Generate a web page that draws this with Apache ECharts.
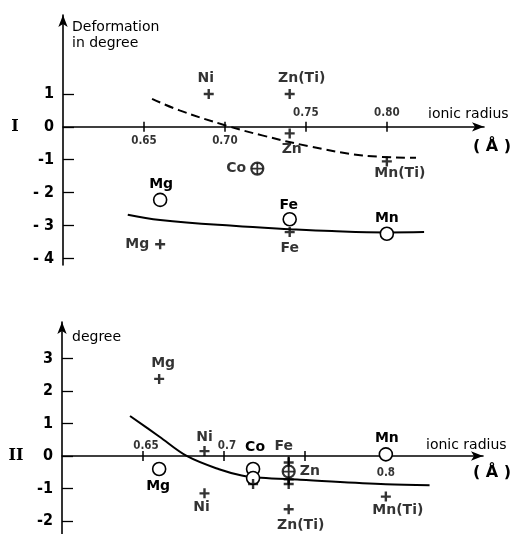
<!DOCTYPE html>
<html><head><meta charset="utf-8">
<script src="https://cdn.jsdelivr.net/npm/echarts@6/dist/echarts.min.js"></script>
<style>html,body{margin:0;padding:0;background:#fff}#c{width:516px;height:534px}</style>
</head><body><div id="c"></div>
<script>
// ---------- DATA ----------
// Panel I
const p1CrossNames = ['Ni', 'Zn(Ti)', 'Zn', 'Mn(Ti)', 'Mg', 'Fe'];
const p1CrossX = [0.69, 0.74, 0.74, 0.80, 0.66, 0.74];
const p1CrossY = [1.0, 1.0, -0.2, -1.05, -3.57, -3.2];
const p1CircleNames = ['Mg', 'Fe', 'Mn'];
const p1CircleX = [0.66, 0.74, 0.80];
const p1CircleY = [-2.22, -2.81, -3.25];
const p1OplusNames = ['Co'];
const p1OplusX = [0.72];
const p1OplusY = [-1.27];
const p1DashX = [0.655, 0.672, 0.70, 0.723, 0.752, 0.785, 0.818];
const p1DashY = [0.85, 0.5, 0.05, -0.26, -0.59, -0.87, -0.94];
const p1SolidX = [0.64, 0.66, 0.705, 0.74, 0.766, 0.80, 0.823];
const p1SolidY = [-2.67, -2.83, -3.01, -3.11, -3.17, -3.21, -3.2];
const p1YTicks = [1, 0, -1, -2, -3, -4];
const p1YLabels = ['1', '0', '-1', '- 2', '- 3', '- 4'];
const p1XBelowTicks = [0.65, 0.70];
const p1XBelowLabels = ['0.65', '0.70'];
const p1XAboveTicks = [0.75, 0.80];
const p1XAboveLabels = ['0.75', '0.80'];

// Panel II
const p2CrossNames = ['Mg', 'Ni', 'Ni', '', 'Fe', '', '', 'Zn(Ti)', 'Mn(Ti)'];
const p2CrossX = [0.66, 0.688, 0.688, 0.718, 0.74, 0.74, 0.74, 0.74, 0.80];
const p2CrossY = [2.37, 0.15, -1.15, -0.86, -0.2, -0.72, -0.86, -1.64, -1.25];
const p2CircleNames = ['Mg', 'Co', '', 'Mn'];
const p2CircleX = [0.66, 0.718, 0.718, 0.80];
const p2CircleY = [-0.40, -0.40, -0.68, 0.05];
const p2OplusNames = ['Zn'];
const p2OplusX = [0.74];
const p2OplusY = [-0.48];
const p2FeBarX = [0.74, 0.74];
const p2FeBarY = [-0.02, -0.9];
const p2SolidX = [0.642, 0.66, 0.677, 0.697, 0.711, 0.723, 0.747, 0.80, 0.827];
const p2SolidY = [1.23, 0.6, 0.0, -0.41, -0.6, -0.67, -0.73, -0.87, -0.9];
const p2YTicks = [3, 2, 1, 0, -1, -2];
const p2YLabels = ['3', '2', '1', '0', '-1', '-2'];
const p2XAboveTicks = [0.65, 0.70];
const p2XAboveLabels = ['0.65', '0.7'];
const p2XBelowTicks = [0.80];
const p2XBelowLabels = ['0.8'];
const xTicks = [0.65, 0.70, 0.75, 0.80];

// ---------- LABEL LAYOUT (style, not data) ----------
const p1CrossLab = [['top', [-3, 0]], ['top', [12, 0]], ['bottom', [2, 0]], ['bottom', [13, -4]], ['left', [-2, 0]], ['bottom', [0, 0]]];
const p1CircleLab = [['top', [1, 3]], ['top', [-1, 4]], ['top', [0, 3]]];
const p1OplusLab = [['left', [0, 0]]];
const p2CrossLab = [['top', [4, 0]], ['top', [0, 2]], ['bottom', [-3, -2]], ['top', [0, 0]], ['top', [-5, 0]], ['top', [0, 0]], ['top', [0, 0]], ['bottom', [12, 0]], ['bottom', [12, -2]]];
const p2CircleLab = [['bottom', [-1, -1]], ['top', [2, -3]], ['top', [0, 0]], ['top', [1, 2]]];
const p2OplusLab = [['right', [0, 0]]];

const FONT = 'DejaVu Sans';
const NUMFONT = 'DejaVu Sans Condensed, DejaVu Sans';
const CROSS = 'path://M3.8,0H6.2V3.8H10V6.2H6.2V10H3.8V6.2H0V3.8H3.8Z';
const THINCROSS = 'path://M4.2,0H5.8V4.2H10V5.8H5.8V10H4.2V5.8H0V4.2H4.2Z';

function pts(xs, ys, names, lab) {
  return xs.map((x, i) => {
    const d = { value: [x, ys[i]], name: names ? names[i] : '' };
    if (lab && names && names[i]) {
      d.label = { show: true, formatter: '{b}', position: lab[i][0], offset: lab[i][1], distance: 4,
        fontFamily: FONT, fontWeight: 'bold', fontSize: 14, color: '#000' };
    }
    return d;
  });
}
function line(xs, ys) { return xs.map((x, i) => [x, ys[i]]); }
function lookup(ticks, labels) {
  return v => { for (let i = 0; i < ticks.length; i++) if (Math.abs(ticks[i] - v) < 1e-6) return labels[i]; return ''; };
}

const gridDefs = [
  { left: 63, width: 421, top: 15, height: 250, outerBoundsMode: 'none', containLabel: false },
  { left: 62, width: 421, top: 322, height: 212, outerBoundsMode: 'none', containLabel: false }
];

function xAxisPair(gridIndex) {
  const common = { type: 'value', gridIndex, min: 0.6, max: 0.86, splitLine: { show: false }, axisLabel: { show: false } };
  return [
    Object.assign({}, common, {
      position: 'bottom',
      axisLine: { show: true, onZero: true, onZeroAxisIndex: gridIndex, symbol: ['none', 'arrow'], symbolSize: [7, 12],
        lineStyle: { color: '#000', width: 1.6 } },
      axisTick: { show: true, inside: false, length: 5, customValues: xTicks, lineStyle: { color: '#000', width: 1.5 } }
    }),
    Object.assign({}, common, {
      position: 'top',
      axisLine: { show: false, onZero: true, onZeroAxisIndex: gridIndex },
      axisTick: { show: true, inside: false, length: 5, customValues: xTicks, lineStyle: { color: '#000', width: 1.5 } }
    })
  ];
}

function yAxis(gridIndex, min, max, ticks, labels) {
  return {
    type: 'value', gridIndex, min, max, position: 'left',
    splitLine: { show: false },
    axisLine: { show: true, onZero: false, symbol: ['none', 'arrow'], symbolSize: [7, 12], lineStyle: { color: '#000', width: 1.6 } },
    axisTick: { show: true, inside: true, length: 11, customValues: ticks, lineStyle: { color: '#000', width: 1.3 } },
    axisLabel: { show: true, customValues: ticks, formatter: lookup(ticks, labels), margin: 9,
      fontFamily: NUMFONT, fontWeight: 'bold', fontSize: 16, color: '#000' }
  };
}

// x tick labels placed at (tick, 0) through the axis scales
function tickLabelSeries(xi, yi, ticks, labels, pos, dist, offset) {
  return { type: 'scatter', xAxisIndex: xi, yAxisIndex: yi, symbol: 'circle', symbolSize: 0.1, silent: true, z: 8,
    itemStyle: { color: 'rgba(0,0,0,0)' },
    label: { show: true, formatter: '{b}', position: pos, distance: dist, offset: offset || [0, 0],
      fontFamily: NUMFONT, fontWeight: 'bold', fontSize: 11.5, color: '#000' },
    data: ticks.map((t, i) => ({ value: [t, 0], name: labels[i] })) };
}

function crossSeries(xi, yi, data) {
  return { type: 'scatter', xAxisIndex: xi, yAxisIndex: yi, symbol: CROSS, symbolSize: 10, z: 5,
    itemStyle: { color: '#000' }, data };
}
function circleSeries(xi, yi, data) {
  return { type: 'scatter', xAxisIndex: xi, yAxisIndex: yi, symbol: 'circle', symbolSize: 13, z: 4,
    itemStyle: { color: '#fff', borderColor: '#000', borderWidth: 1.6, opacity: 1 }, data };
}
function oplusSeries(xi, yi, xs, ys, names, lab) {
  return [
    { type: 'scatter', xAxisIndex: xi, yAxisIndex: yi, symbol: 'circle', symbolSize: 12, z: 6,
      itemStyle: { color: '#fff', borderColor: '#000', borderWidth: 2.2 }, data: pts(xs, ys, names, lab) },
    { type: 'scatter', xAxisIndex: xi, yAxisIndex: yi, symbol: THINCROSS, symbolSize: 11, z: 7,
      itemStyle: { color: '#000' }, data: pts(xs, ys) }
  ];
}

const series = [
  // Panel I
  { type: 'line', xAxisIndex: 0, yAxisIndex: 0, data: line(p1DashX, p1DashY), smooth: 0.4, showSymbol: false, z: 2,
    lineStyle: { color: '#000', width: 2, type: [9, 5] } },
  { type: 'line', xAxisIndex: 0, yAxisIndex: 0, data: line(p1SolidX, p1SolidY), smooth: 0.4, showSymbol: false, z: 2,
    lineStyle: { color: '#000', width: 2 } },
  circleSeries(0, 0, pts(p1CircleX, p1CircleY, p1CircleNames, p1CircleLab)),
  crossSeries(0, 0, pts(p1CrossX, p1CrossY, p1CrossNames, p1CrossLab)),
  ...oplusSeries(0, 0, p1OplusX, p1OplusY, p1OplusNames, p1OplusLab),
  tickLabelSeries(0, 0, p1XBelowTicks, p1XBelowLabels, 'bottom', 8),
  tickLabelSeries(0, 0, p1XAboveTicks, p1XAboveLabels, 'top', 8),
  // Panel II
  { type: 'line', xAxisIndex: 2, yAxisIndex: 1, data: line(p2SolidX, p2SolidY), smooth: 0.35, showSymbol: false, z: 2,
    lineStyle: { color: '#000', width: 2 } },
  { type: 'line', xAxisIndex: 2, yAxisIndex: 1, data: line(p2FeBarX, p2FeBarY), showSymbol: false, z: 3,
    lineStyle: { color: '#000', width: 2 } },
  circleSeries(2, 1, pts(p2CircleX, p2CircleY, p2CircleNames, p2CircleLab)),
  crossSeries(2, 1, pts(p2CrossX, p2CrossY, p2CrossNames, p2CrossLab)),
  ...oplusSeries(2, 1, p2OplusX, p2OplusY, p2OplusNames, p2OplusLab),
  tickLabelSeries(2, 1, p2XAboveTicks, p2XAboveLabels, 'top', 4, [3, 0]),
  tickLabelSeries(2, 1, p2XBelowTicks, p2XBelowLabels, 'bottom', 11)
];

function txt(x, y, text, size, weight, family, align, valign, lh) {
  return { type: 'text', x, y, z: 10,
    style: { text, fontSize: size, fontWeight: weight, fontFamily: family, fill: '#000',
      textAlign: align, textVerticalAlign: valign, align: align, verticalAlign: valign, lineHeight: lh } };
}

const chart = echarts.init(document.getElementById('c'), null, { renderer: 'canvas' });
chart.setOption({
  animation: false,
  backgroundColor: '#fff',
  grid: gridDefs,
  xAxis: [...xAxisPair(0), ...xAxisPair(1)],
  yAxis: [
    yAxis(0, -4.2, 3.4, p1YTicks, p1YLabels),
    yAxis(1, -2.4, 4.12, p2YTicks, p2YLabels)
  ],
  series,
  graphic: [
    txt(72, 19, 'Deformation\nin degree', 14, 'normal', FONT, 'left', 'top', 16),
    txt(72, 337, 'degree', 14, 'normal', FONT, 'left', 'middle'),
    txt(428, 114, 'ionic radius', 14, 'normal', FONT, 'left', 'middle'),
    txt(426, 445, 'ionic radius', 14, 'normal', FONT, 'left', 'middle'),
    txt(492, 147, '( Å )', 16, 'bold', FONT, 'center', 'middle'),
    txt(492, 473, '( Å )', 16, 'bold', FONT, 'center', 'middle'),
    txt(15, 127, 'I', 16, 'bold', 'DejaVu Serif', 'center', 'middle'),
    txt(16, 456, 'II', 16, 'bold', 'DejaVu Serif', 'center', 'middle')
  ]
});
</script></body></html>
